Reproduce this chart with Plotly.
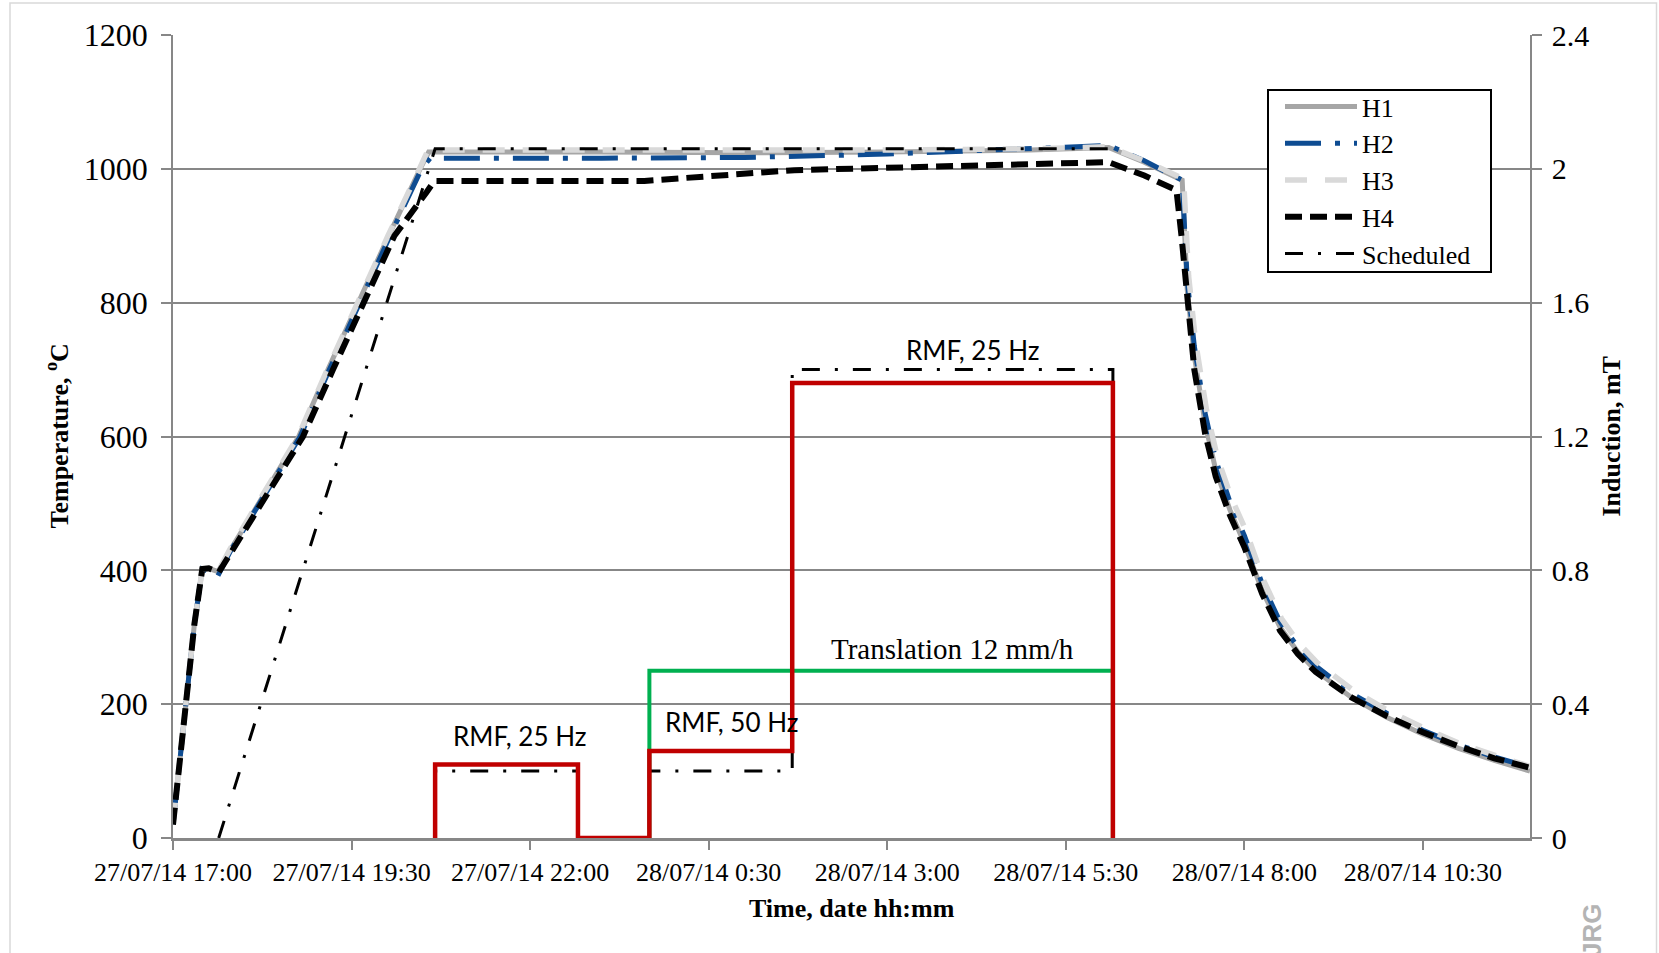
import pandas as pd
import plotly.graph_objects as go

START = pd.Timestamp("2014-07-27 17:00")
END_HOURS = 19.0

# ---------------- data (hours after 27/07/14 17:00) ----------------
h1_hours = [0, 0.17, 0.30, 0.41, 0.50, 0.63, 0.80, 1.20, 1.76, 2.17, 2.59, 3.02, 3.46, 3.58,
            6.0, 8.0, 10.0, 12.0, 13.1, 13.6, 14.13, 14.2, 14.3, 14.45, 14.6, 14.8, 15.0,
            15.25, 15.5, 15.75, 16.0, 16.5, 17.0, 17.5, 18.0, 18.5, 19.0]
h1_temp = [20, 200, 320, 402, 403, 398, 430, 500, 600, 700, 800, 900, 1000, 1025,
           1025, 1024, 1025, 1028, 1032, 1010, 983, 820, 720, 620, 550, 490, 440,
           370, 315, 278, 250, 210, 180, 155, 134, 116, 100]

h2_hours = [0, 0.17, 0.30, 0.41, 0.50, 0.62, 0.80, 1.20, 1.78, 2.19, 2.61, 3.04, 3.48, 3.60,
            6.0, 8.0, 10.0, 12.0, 13.1, 13.6, 14.13, 14.2, 14.3, 14.45, 14.6, 14.8, 15.0,
            15.25, 15.5, 15.75, 16.0, 16.5, 17.0, 17.5, 18.0, 18.5, 19.0]
h2_temp = [20, 200, 320, 402, 398, 390, 428, 498, 600, 700, 800, 900, 1000, 1016,
           1016, 1017, 1022, 1030, 1035, 1012, 983, 835, 735, 635, 565, 502, 452,
           380, 323, 285, 257, 216, 186, 161, 139, 121, 106]

h3_hours = [0, 0.17, 0.30, 0.41, 0.50, 0.63, 0.80, 1.20, 1.75, 2.16, 2.58, 3.01, 3.45, 3.57,
            6.0, 8.0, 10.0, 12.0, 13.1, 13.6, 14.15, 14.22, 14.32, 14.47, 14.62, 14.82, 15.02,
            15.27, 15.52, 15.77, 16.02, 16.52, 17.02, 17.52, 18.02, 18.52, 19.0]
h3_temp = [20, 200, 320, 402, 403, 398, 432, 503, 600, 700, 800, 900, 1000, 1028,
           1028, 1027, 1028, 1030, 1033, 1012, 985, 840, 740, 640, 570, 508, 460,
           385, 328, 290, 262, 221, 190, 164, 141, 123, 107]

h4_hours = [0, 0.17, 0.30, 0.41, 0.50, 0.64, 0.82, 1.24, 1.82, 2.24, 2.66, 3.10, 3.55, 3.66,
            6.0, 6.6, 8.7, 11.0, 13.1, 13.6, 14.05, 14.12, 14.2, 14.3, 14.45, 14.6, 14.8, 15.0,
            15.25, 15.5, 15.75, 16.0, 16.5, 17.0, 17.5, 18.0, 18.5, 19.0]
h4_temp = [20, 200, 320, 402, 403, 397, 428, 498, 600, 700, 800, 900, 965, 982,
           982, 982, 998, 1005, 1010, 990, 968, 900, 800, 700, 605, 540, 482, 435,
           365, 310, 275, 248, 210, 182, 158, 137, 119, 105]

sched_hours = [0.64, 3.67, 13.16]
sched_temp = [0, 1030, 1030]

# Induction, mT (right axis)
rmf_hours = [3.67, 3.67, 5.67, 5.67, 6.67, 6.67, 8.67, 8.67, 13.16, 13.16]
rmf_mt = [0, 0.22, 0.22, 0, 0, 0.26, 0.26, 1.36, 1.36, 0]

rmf_sched_hours = [3.67, 3.67, 5.67, 5.67, 6.67, 6.67, 8.67, 8.67, 13.16, 13.16]
rmf_sched_mt = [0, 0.2, 0.2, 0, 0, 0.2, 0.2, 1.4, 1.4, 0]

transl_hours = [6.67, 6.67, 13.16, 13.16]
transl_level = [0, 0.5, 0.5, 0]

tick_hours = [0, 2.5, 5, 7.5, 10, 12.5, 15, 17.5]
tick_labels = ["27/07/14 17:00", "27/07/14 19:30", "27/07/14 22:00", "28/07/14 0:30",
               "28/07/14 3:00", "28/07/14 5:30", "28/07/14 8:00", "28/07/14 10:30"]

temp_ticks = [0, 200, 400, 600, 800, 1000, 1200]
ind_ticks = [0, 0.4, 0.8, 1.2, 1.6, 2.0, 2.4]
ind_tick_labels = ["0", "0.4", "0.8", "1.2", "1.6", "2", "2.4"]


def tx(hours):
    return [START + pd.Timedelta(hours=h) for h in hours]


SERIF = "Liberation Serif"
GRID = "#878787"

fig = go.Figure()

# induction / translation (right axis)
fig.add_trace(go.Scatter(x=tx(transl_hours), y=transl_level, yaxis="y2", mode="lines",
                         line=dict(color="#00B050", width=4), showlegend=False, hoverinfo="skip"))
fig.add_trace(go.Scatter(x=tx(rmf_sched_hours), y=rmf_sched_mt, yaxis="y2", mode="lines",
                         line=dict(color="black", width=3, dash="18px,15px,3px,15px"),
                         showlegend=False, hoverinfo="skip"))
fig.add_trace(go.Scatter(x=tx(rmf_hours), y=rmf_mt, yaxis="y2", mode="lines",
                         line=dict(color="#C00000", width=4.5), showlegend=False,
                         hoverinfo="skip"))

# temperatures
fig.add_trace(go.Scatter(x=tx(h1_hours), y=h1_temp, mode="lines", name="H1",
                         line=dict(color="#A6A6A6", width=5)))
fig.add_trace(go.Scatter(x=tx(h2_hours), y=h2_temp, mode="lines", name="H2",
                         line=dict(color="#0E4C92", width=5, dash="36px,14px,5px,14px")))
fig.add_trace(go.Scatter(x=tx(h3_hours), y=h3_temp, mode="lines", name="H3",
                         line=dict(color="#D9D9D9", width=5.5, dash="22px,18px")))
fig.add_trace(go.Scatter(x=tx(h4_hours), y=h4_temp, mode="lines", name="H4",
                         line=dict(color="black", width=6, dash="17px,8px")))
fig.add_trace(go.Scatter(x=tx(sched_hours), y=sched_temp, mode="lines", name="Scheduled",
                         line=dict(color="black", width=3, dash="18px,15px,3px,15px")))

W, H = 1659, 953
ML, MR, MT, MB = 173, 129, 35, 115
PW, PH = W - ML - MR, H - MT - MB


def px(xp):
    return (xp - ML) / PW


def py(yp):
    return (H - MB - yp) / PH


common = dict(showarrow=False, xanchor="center", yanchor="middle")
annotations = [
    dict(text="<b>Temperature, <sup>o</sup>C</b>", xref="paper", yref="paper",
         x=px(58), y=0.5, textangle=-90,
         font=dict(family=SERIF, size=26, color="black"), **common),
    dict(text="<b>Induction, mT</b>", xref="paper", yref="paper",
         x=px(1611), y=0.5, textangle=-90,
         font=dict(family=SERIF, size=26, color="black"), **common),
    dict(text="<b>Time, date hh:mm</b>", xref="paper", yref="paper",
         x=0.5, y=py(909),
         font=dict(family=SERIF, size=26, color="black"), **common),
    dict(text="RMF, 25 Hz", x=START + pd.Timedelta(hours=4.856), y=152,
         font=dict(family="Lato", size=26, color="black"), **common),
    dict(text="RMF, 50 Hz", x=START + pd.Timedelta(hours=7.816), y=174,
         font=dict(family="Lato", size=26, color="black"), **common),
    dict(text="RMF, 25 Hz", x=START + pd.Timedelta(hours=11.195), y=729,
         font=dict(family="Lato", size=26, color="black"), **common),
    dict(text="Translation 12 mm/h", x=START + pd.Timedelta(hours=10.908), y=283,
         font=dict(family=SERIF, size=29, color="black"), **common),
    dict(text="<b>JRG</b>", xref="paper", yref="paper", x=px(1592), y=py(931),
         textangle=-90, font=dict(family="Liberation Sans", size=26, color="#B4B4B4"),
         **common),
]

LEG_X0, LEG_X1, LEG_Y0, LEG_Y1 = 1268, 1491, 90, 272

fig.update_layout(
    width=W, height=H,
    margin=dict(l=ML, r=MR, t=MT, b=MB, pad=0),
    paper_bgcolor="white", plot_bgcolor="white",
    showlegend=True,
    legend=dict(x=px(LEG_X0 + 12), y=py(LEG_Y0 - 7), xanchor="left", yanchor="top",
                borderwidth=0, bgcolor="rgba(0,0,0,0)",
                font=dict(family=SERIF, size=26, color="black"),
                itemwidth=72, tracegroupgap=0),
    xaxis=dict(type="date", range=[START, START + pd.Timedelta(hours=END_HOURS)],
               tickvals=tx(tick_hours), ticktext=tick_labels,
               tickfont=dict(family=SERIF, size=26, color="black"),
               showgrid=False, zeroline=False, showline=True, linecolor=GRID, linewidth=2.5,
               ticks="outside", ticklen=9, tickcolor=GRID, tickwidth=1.5),
    yaxis=dict(range=[0, 1200], tickvals=temp_ticks,
               tickfont=dict(family=SERIF, size=32, color="black"),
               showgrid=True, gridcolor=GRID, gridwidth=1.5, zeroline=False,
               showline=True, linecolor=GRID, linewidth=1.5,
               ticks="outside", ticklen=10, tickcolor=GRID, tickwidth=1.5,
               ticklabelstandoff=7),
    yaxis2=dict(range=[0, 2.4], tickvals=ind_ticks, ticktext=ind_tick_labels,
                overlaying="y", side="right",
                tickfont=dict(family=SERIF, size=30, color="black"),
                showgrid=False, zeroline=False, showline=True, linecolor=GRID, linewidth=1.5,
                ticks="outside", ticklen=10, tickcolor=GRID, tickwidth=1.5,
                ticklabelstandoff=4),
    annotations=annotations,
    shapes=[
        dict(type="rect", xref="paper", yref="paper",
             x0=px(10), x1=px(1656.5), y0=py(970), y1=py(3),
             line=dict(color="#D9D9D9", width=1.5), fillcolor="rgba(0,0,0,0)",
             layer="below"),
        dict(type="rect", xref="paper", yref="paper",
             x0=px(LEG_X0), x1=px(LEG_X1), y0=py(LEG_Y1), y1=py(LEG_Y0),
             line=dict(color="black", width=2), fillcolor="white", layer="above"),
    ],
)

fig.write_html("out.html")
